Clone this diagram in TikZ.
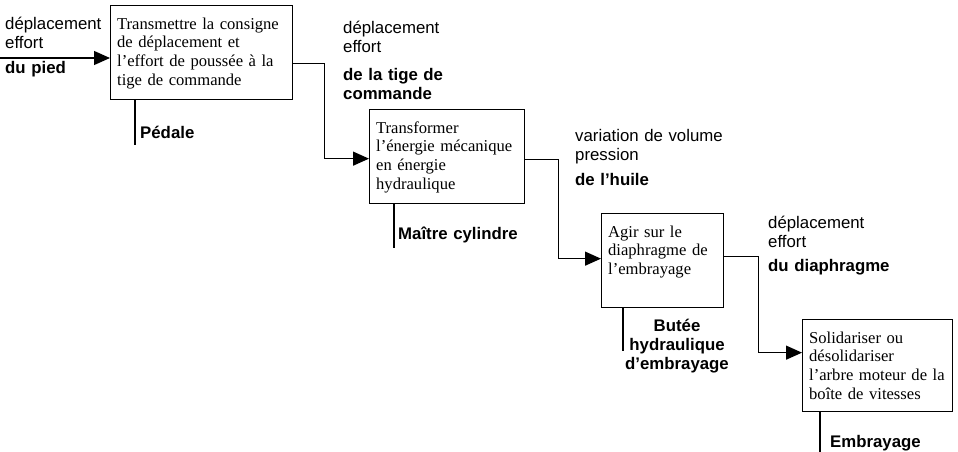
\documentclass[tikz,border=0pt]{standalone}
\usepackage{fontspec}
\setmainfont{Liberation Serif}
\setsansfont{Liberation Sans}
\usetikzlibrary{arrows.meta}

\begin{document}
\begin{tikzpicture}[x=1pt,y=-1pt,
  fct/.style={draw, line width=1.3pt, anchor=north west, align=left, inner xsep=6.5pt, inner ysep=6pt, text height=17.5pt, text depth=64.5pt, font=\fontsize{16.6}{18.8}\selectfont},
  flux/.style={line width=1.3pt, -{Triangle[length=16pt,width=14pt]}},
  mec/.style={line width=1.3pt},
  lbl/.style={anchor=base west, align=left, inner sep=0pt, text width=190pt, font=\sffamily\fontsize{16.8}{19}\selectfont},
  mlbl/.style={lbl, font=\sffamily\bfseries\fontsize{16.8}{19}\selectfont}]
\useasboundingbox (0,0) rectangle (958,452);
\node[fct, text width=169pt] (A) at (110,5) {Transmettre la consigne\\de déplacement et\\l’effort de poussée à la\\tige de commande};
\node[fct, text width=142pt] (B) at (369,109) {Transformer\\l’énergie mécanique\\en énergie\\hydraulique};
\node[fct, text width=109pt] (C) at (601,213) {Agir sur le\\diaphragme de\\l’embrayage};
\node[fct, text width=137pt, text depth=62.5pt] (D) at (802,319) {Solidariser ou\\désolidariser\\l’arbre moteur de la\\boîte de vitesses};
\node[lbl] (a) at (5,30) {déplacement\\effort\\[6pt]\textbf{du pied}};
\node[lbl] (b) at (343,34) {déplacement\\effort\\[9pt]\textbf{de la tige de}\\\textbf{commande}};
\node[lbl] (c) at (575,141) {variation de volume\\pression\\[6pt]\textbf{de l’huile}};
\node[lbl] (d) at (768,228) {déplacement\\effort\\[5pt]\textbf{du diaphragme}};
\node[mlbl] (mA) at (140,138) {Pédale};
\node[mlbl] (mB) at (398,239) {Maître cylindre};
\node[mlbl, anchor=base, align=center, text width=140pt] (mC) at (677,331) {Butée\\hydraulique\\d’embrayage};
\node[mlbl] (mD) at (830,447) {Embrayage};
\coordinate (in) at (0,58);
\draw[flux] (in) -- (in -| A.west);
\draw[flux] ([yshift=-11pt]A.east) -- ++(31,0) |- ([yshift=-2pt]B.west);
\draw[flux] ([yshift=-3pt]B.east) -- ++(33,0) |- ([yshift=2pt]C.west);
\draw[flux] ([yshift=4pt]C.east) -- ++(34,0) |- ([yshift=13pt]D.west);
\draw[mec] ([xshift=25pt]A.south west) -- ++(0,45);
\draw[mec] ([xshift=25pt]B.south west) -- ++(0,44);
\draw[mec] ([xshift=22pt]C.south west) -- ++(0,43);
\draw[mec] ([xshift=18pt]D.south west) -- ++(0,41);
\end{tikzpicture}
\end{document}
